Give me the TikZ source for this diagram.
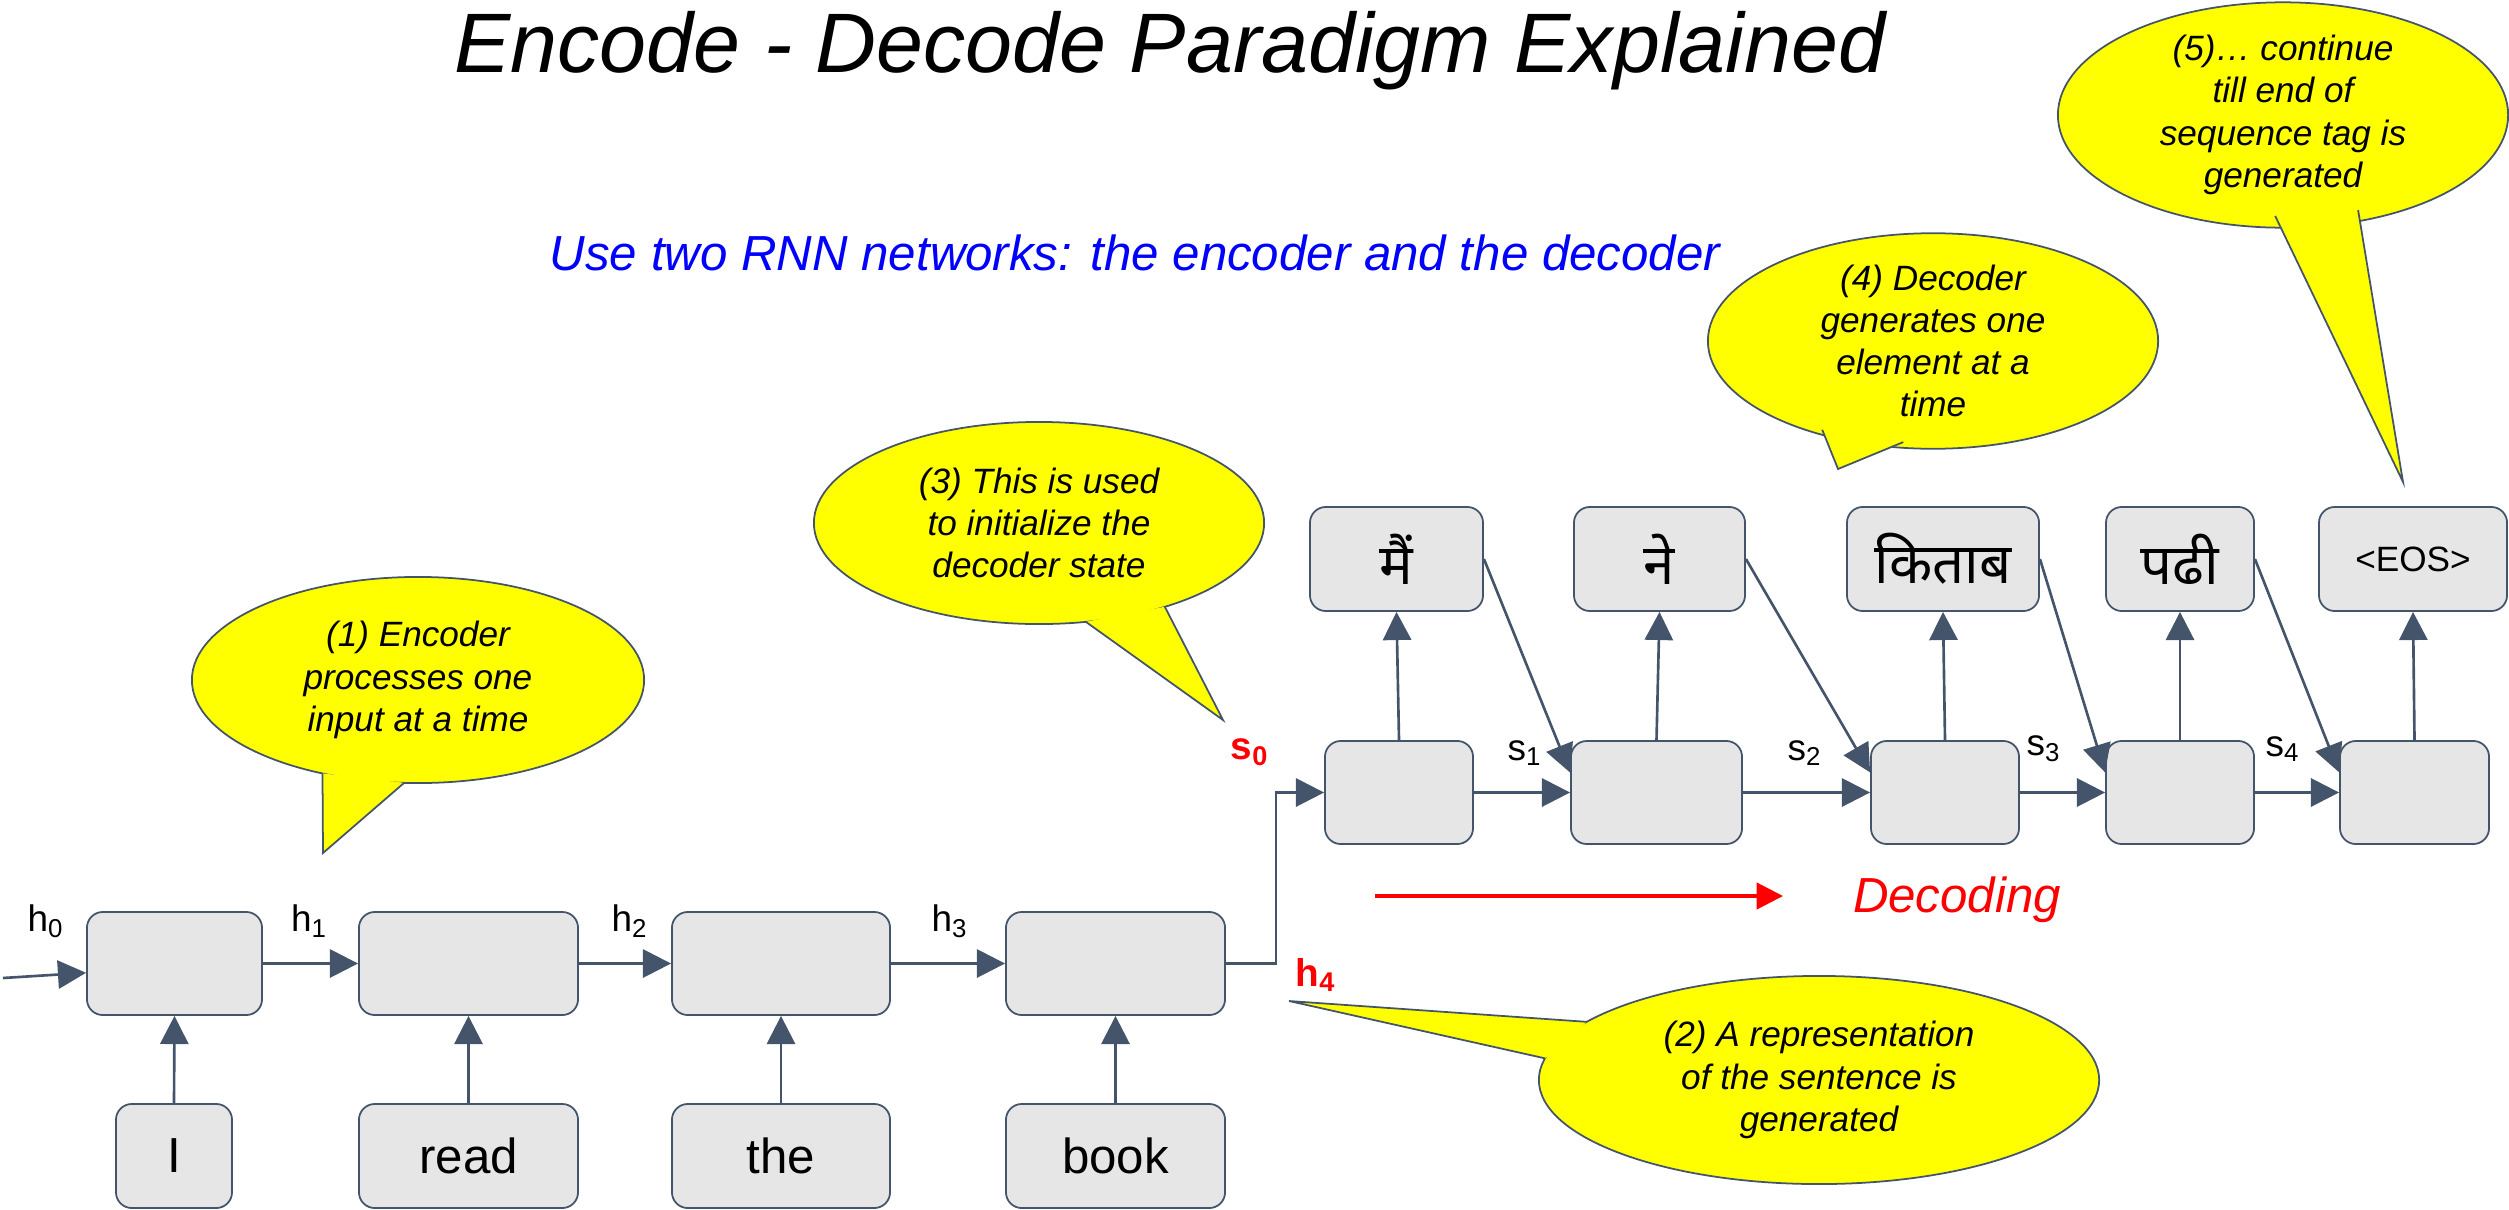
\documentclass[tikz,border=0pt]{standalone}
\usepackage{fontspec}
\setmainfont{Liberation Sans}
\newfontfamily\deva[Script=Devanagari]{Noto Sans}
\usetikzlibrary{arrows.meta,shapes.geometric,calc}
\definecolor{slate}{RGB}{68,84,106}
\definecolor{boxgray}{RGB}{230,230,230}
\definecolor{callyellow}{RGB}{255,255,0}
\begin{document}
\begin{tikzpicture}[x=0.01cm,y=-0.01cm,
  cell/.style={draw=slate, line width=0.5pt, fill=boxgray, rounded corners=4.5pt, inner sep=0pt},
  word/.style={font=\fontsize{14}{16}\selectfont},
  hind/.style={font=\deva\fontsize{16}{18}\selectfont},
  arr/.style={draw=slate, line width=0.75pt, -{Triangle[length=8pt,width=8pt]}},
  lab/.style={font=\fontsize{10.5}{12}\selectfont, inner sep=0pt},
  redlab/.style={font=\fontsize{11}{13}\selectfont\bfseries, text=red, inner sep=0pt},
  callout/.style={ellipse, draw=slate, line width=0.5pt, fill=callyellow, inner sep=0pt, align=center, font=\fontsize{10}{12}\selectfont\itshape},
  ptr/.style={draw=slate, line width=0.5pt, line join=miter}]
\useasboundingbox (0,0) rectangle (2509,1209);

% title and subtitle
\node[font=\fontsize{24}{28}\selectfont\itshape, anchor=base, inner sep=0pt] (title) at (1170,72) {Encode - Decode Paradigm Explained};
\node[font=\fontsize{14}{16}\selectfont\itshape, text=blue, anchor=base, inner sep=0pt] (sub) at (1135,270) {Use two RNN networks: the encoder and the decoder};

% encoder cells
\node[cell, minimum width=1.75cm, minimum height=1.03cm] (e1) at (174.5,963.5) {};
\node[cell, minimum width=2.19cm, minimum height=1.03cm] (e2) at (468.5,963.5) {};
\node[cell, minimum width=2.18cm, minimum height=1.03cm] (e3) at (781,963.5) {};
\node[cell, minimum width=2.19cm, minimum height=1.03cm] (e4) at (1115.5,963.5) {};

% inputs
\node[cell, word, minimum width=1.16cm, minimum height=1.04cm] (i1) at (174,1156) {I};
\node[cell, word, minimum width=2.19cm, minimum height=1.04cm] (i2) at (468.5,1156) {read};
\node[cell, word, minimum width=2.18cm, minimum height=1.04cm] (i3) at (781,1156) {the};
\node[cell, word, minimum width=2.19cm, minimum height=1.04cm] (i4) at (1115.5,1156) {book};

% decoder cells
\node[cell, minimum width=1.48cm, minimum height=1.03cm] (d1) at (1399,792.5) {};
\node[cell, minimum width=1.71cm, minimum height=1.03cm] (d2) at (1656.5,792.5) {};
\node[cell, minimum width=1.48cm, minimum height=1.03cm] (d3) at (1945,792.5) {};
\node[cell, minimum width=1.48cm, minimum height=1.03cm] (d4) at (2180,792.5) {};
\node[cell, minimum width=1.49cm, minimum height=1.03cm] (d5) at (2414.5,792.5) {};

% outputs
\node[cell, hind, minimum width=1.73cm, minimum height=1.04cm] (o1) at (1396.5,559) {मैं};
\node[cell, hind, minimum width=1.71cm, minimum height=1.04cm] (o2) at (1659.5,559) {ने};
\node[cell, hind, minimum width=1.92cm, minimum height=1.04cm] (o3) at (1943,559) {किताब};
\node[cell, hind, minimum width=1.48cm, minimum height=1.04cm] (o4) at (2180,559) {पढी};
\node[cell, font=\fontsize{10}{12}\selectfont, minimum width=1.88cm, minimum height=1.04cm] (o5) at (2413,559) {<EOS>};

% encoder connectors
\coordinate (in0) at (3,978);
\draw[arr] (in0) -- (e1.186);
\draw[arr] (e1.east) -- (e2.west);
\draw[arr] (e2.east) -- (e3.west);
\draw[arr] (e3.east) -- (e4.west);
\draw[arr] (i1.north) -- (e1.south);
\draw[arr] (i2.north) -- (e2.south);
\draw[arr] (i3.north) -- (e3.south);
\draw[arr] (i4.north) -- (e4.south);
\draw[arr] (e4.east) -- ++(50,0) |- (d1.west);

% decoder connectors
\draw[arr] (d1.east) -- (d2.west);
\draw[arr] (d2.east) -- (d3.west);
\draw[arr] (d3.east) -- (d4.west);
\draw[arr] (d4.east) -- (d5.west);
\draw[arr] (d1.north) -- (o1.south);
\draw[arr] (d2.north) -- (o2.south);
\draw[arr] (d3.north) -- (o3.south);
\draw[arr] (d4.north) -- (o4.south);
\draw[arr] (d5.north) -- (o5.south);
\draw[arr] (o1.east) -- (d2.167);
\draw[arr] (o2.east) -- (d3.165);
\draw[arr] (o3.east) -- (d4.165);
\draw[arr] (o4.east) -- (d5.165);

% state labels
\node[lab] (h0) at (46,921) {h\textsubscript{0}};
\node[lab] (h1) at (309.5,921) {h\textsubscript{1}};
\node[lab] (h2) at (630,921) {h\textsubscript{2}};
\node[lab] (h3) at (950,921) {h\textsubscript{3}};
\node[lab] (s1) at (1525,753) {s\textsubscript{1}};
\node[lab] (s2) at (1805,753) {s\textsubscript{2}};
\node[lab] (s3) at (2044,749) {s\textsubscript{3}};
\node[lab] (s4) at (2283,749) {s\textsubscript{4}};
\node[redlab] (s0) at (1250,752) {s\textsubscript{0}};
\node[redlab] (h4) at (1316,975) {h\textsubscript{4}};

% decoding arrow
\coordinate (decA) at (1375,896);
\coordinate (decB) at (1783,896);
\draw[red, line width=0.9pt, -{Triangle[length=7.5pt,width=7.5pt]}] (decA) -- (decB);
\node[font=\fontsize{14}{16}\selectfont\itshape, text=red, anchor=base, inner sep=0pt] (dectxt) at (1957,912) {Decoding};

% callout 1
\node[callout, minimum width=4.52cm, minimum height=2.06cm] (c1) at (418,680) {(1) Encoder\\processes one\\input at a time};
\coordinate (c1a) at ($(c1.center)+({226*cos(115)},{103*sin(115)})$);
\coordinate (c1b) at ($(c1.center)+({226*cos(93.5)},{103*sin(93.5)})$);
\coordinate (c1t) at (323,853);
\fill[callyellow] (c1a) -- (c1t) -- (c1b) -- cycle;
\draw[ptr] (c1a) -- (c1t) -- (c1b);

% callout 3
\node[callout, minimum width=4.50cm, minimum height=2.02cm] (c3) at (1039,523) {(3) This is used\\to initialize the\\decoder state};
\coordinate (c3a) at ($(c3.center)+({225*cos(78)},{101*sin(78)})$);
\coordinate (c3b) at ($(c3.center)+({225*cos(56)},{101*sin(56)})$);
\coordinate (c3t) at (1223,720);
\fill[callyellow] (c3a) -- (c3t) -- (c3b) -- cycle;
\draw[ptr] (c3a) -- (c3t) -- (c3b);

% callout 2
\node[callout, minimum width=5.60cm, minimum height=2.08cm] (c2) at (1819,1080) {(2) A representation\\of the sentence is\\generated};
\coordinate (c2a) at ($(c2.center)+({280*cos(214)},{104*sin(214)})$);
\coordinate (c2b) at ($(c2.center)+({280*cos(192)},{104*sin(192)})$);
\coordinate (c2t) at (1289,1001);
\fill[callyellow] (c2a) -- (c2t) -- (c2b) -- cycle;
\draw[ptr] (c2a) -- (c2t) -- (c2b);

% callout 4
\node[callout, minimum width=4.50cm, minimum height=2.04cm] (c4) at (1933,341) {(4) Decoder\\generates one\\element at a\\time};
\coordinate (c4a) at ($(c4.center)+({225*cos(119.5)},{102*sin(119.5)})$);
\coordinate (c4b) at ($(c4.center)+({225*cos(97.6)},{102*sin(97.6)})$);
\coordinate (c4t) at (1838,469);
\fill[callyellow] (c4a) -- (c4t) -- (c4b) -- cycle;
\draw[ptr] (c4a) -- (c4t) -- (c4b);

% callout 5
\node[callout, minimum width=4.50cm, minimum height=2.02cm] (c5) at (2283,115) {(5)… continue\\till end of\\sequence tag is\\generated};
\coordinate (c5a) at ($(c5.center)+({225*cos(92)},{101*sin(92)})$);
\coordinate (c5b) at ($(c5.center)+({225*cos(70.5)},{101*sin(70.5)})$);
\coordinate (c5t) at (2403,482);
\fill[callyellow] (c5a) -- (c5t) -- (c5b) -- cycle;
\draw[ptr] (c5a) -- (c5t) -- (c5b);
\end{tikzpicture}
\end{document}
